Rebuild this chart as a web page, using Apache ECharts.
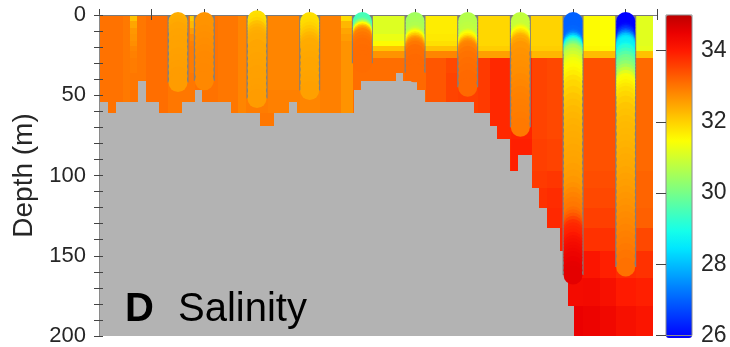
<!DOCTYPE html>
<html>
<head>
<meta charset="utf-8">
<script src="https://cdn.jsdelivr.net/npm/echarts@6/dist/echarts.min.js"></script>
<style>
  html, body { margin: 0; padding: 0; background: #fff; }
  #chart { width: 730px; height: 347px; }
</style>
</head>
<body>
<div id="chart"></div>
<script>
const FONT = '"Liberation Sans", Arial, sans-serif';

// gridded salinity field: column edges (km), row edges (m), values per column (top -> bottom)
const colEdges = [0, 4.49, 5.82, 7.21, 8.86, 13.04, 17.21, 18.16, 22.53, 26.33, 27.85, 32.02, 38.10, 41.90,
  45.88, 48.16, 51.96, 58.03, 62.02, 65.82, 68.10, 71.90, 74.17, 78.16, 82.15, 85.00, 88.22, 91.83, 95.06,
  98.10, 101.89, 105.12];
const rowEdges = [0, 4, 8, 12, 16.5, 19.6, 22.7, 26.8, 36, 47, 61, 77, 97, 108, 120, 133, 147, 164, 181, 200];
const salinity = [
  [33.05, 33.05, 33.05, 33.05, 33.05, 33.05, 33.05, 33.05, 33.05, 33.05],
  [32.98, 32.98, 32.98, 32.98, 32.98, 32.98, 32.98, 32.98, 32.98, 32.98],
  [32.2, 32.5, 32.65, 32.7, 32.75, 32.85, 32.9, 32.95, 33.0, 33.05],
  [33.0, 33.0, 33.0, 33.0, 33.0, 33.0, 33.0, 33.0, 33.0, 33.0],
  [33.1, 33.1, 33.1, 33.1, 33.1, 33.1, 33.1, 33.1, 33.1, 33.1],
  [33.0, 33.0, 33.0, 33.0, 33.0, 33.0, 33.0, 33.0, 33.0, 33.0],
  [32.1, 32.3, 32.6, 32.8, 32.9, 32.95, 32.95, 32.95, 33.0, 33.0],
  [33.05, 33.05, 33.05, 33.05, 33.05, 33.05, 33.05, 33.05, 33.05, 33.05],
  [33.0, 33.0, 33.0, 33.0, 33.0, 33.0, 33.0, 33.0, 33.0, 33.0],
  [32.85, 32.85, 32.85, 32.85, 32.85, 32.85, 32.85, 32.85, 32.85, 32.85],
  [32.9, 32.9, 32.9, 32.9, 32.9, 32.9, 32.9, 32.9, 32.9, 32.95, 33.0],
  [32.85, 32.85, 32.85, 32.85, 32.85, 32.85, 32.85, 32.85, 32.85, 32.9, 33.0],
  [32.85, 32.85, 32.85, 32.85, 32.85, 32.85, 32.85, 32.85, 32.85, 32.85],
  [32.9, 32.9, 32.9, 32.9, 32.9, 32.9, 32.9, 32.9, 32.9, 32.9],
  [31.9, 32.3, 32.5, 32.6, 32.7, 32.7, 32.7, 32.7, 32.7, 32.7],
  [31.2, 31.2, 31.2, 31.3, 31.55, 32.15, 32.7, 33.1, 33.1, 33.1],
  [31.15, 31.15, 31.15, 31.3, 31.55, 32.15, 32.7, 33.1, 33.1],
  [31.4, 31.4, 31.4, 31.45, 31.6, 32.2, 32.8, 33.15, 33.15, 33.15],
  [31.7, 31.7, 31.7, 31.75, 31.85, 32.2, 32.85, 33.35, 33.35, 33.35],
  [31.7, 31.7, 31.7, 31.75, 31.85, 32.2, 32.85, 33.5, 33.55, 33.55],
  [31.75, 31.75, 31.75, 31.8, 31.9, 32.3, 32.9, 33.6, 33.6, 33.6],
  [31.95, 31.95, 31.95, 31.95, 31.95, 32.05, 32.55, 33.65, 33.65, 33.65, 33.65],
  [31.95, 31.95, 31.95, 31.95, 31.95, 32.05, 32.55, 33.85, 33.85, 33.85, 33.85, 33.85],
  [32.0, 32.0, 32.0, 32.0, 32.0, 32.05, 32.6, 33.85, 33.85, 33.85, 33.9, 33.95],
  [32.0, 32.0, 32.0, 32.0, 32.0, 32.05, 32.3, 33.55, 33.55, 33.55, 33.55, 33.6, 33.65, 33.75],
  [32.0, 32.0, 32.0, 32.0, 32.0, 32.05, 32.3, 33.5, 33.5, 33.5, 33.5, 33.55, 33.7, 33.8, 33.85, 33.95],
  [31.8, 31.8, 31.8, 31.8, 31.8, 31.85, 32.3, 33.45, 33.45, 33.45, 33.45, 33.5, 33.55, 33.6, 33.7, 33.85, 34.1, 34.28, 34.5],
  [31.55, 31.55, 31.55, 31.55, 31.55, 31.6, 32.25, 33.4, 33.4, 33.4, 33.4, 33.4, 33.45, 33.5, 33.6, 33.75, 34.1, 34.3, 34.45],
  [31.5, 31.5, 31.5, 31.5, 31.5, 31.55, 32.25, 33.4, 33.4, 33.4, 33.4, 33.4, 33.45, 33.5, 33.6, 33.75, 33.95, 34.2, 34.35],
  [31.35, 31.35, 31.35, 31.35, 31.35, 31.4, 32.2, 33.3, 33.3, 33.3, 33.3, 33.3, 33.35, 33.4, 33.45, 33.6, 33.8, 34.0, 34.2],
  [31.2, 31.2, 31.2, 31.2, 31.2, 31.25, 32.2, 33.15, 33.15, 33.15, 33.15, 33.15, 33.2, 33.2, 33.25, 33.5, 33.75, 33.95, 34.1]
];

// sea floor: segment edges (km) and bottom depth (m)
const bathyEdges = [0, 1.65, 3.22, 7.34, 8.92, 11.46, 15.75, 18.30, 19.55, 25.06, 30.64, 33.30, 36.01, 37.59,
  48.35, 49.74, 56.38, 57.79, 60.31, 61.97, 71.27, 74.23, 75.50, 78.10, 79.49, 82.20, 83.53, 85.05, 87.52,
  88.98, 90.25];
const bathyDepth = [54, 61, 54, 41, 54, 61, 54, 47, 54, 61, 69, 61, 54, 61, 47, 41, 36, 41, 47, 54, 61, 69, 77,
  97, 87, 108, 120, 133, 147, 181];

// CTD casts: station position (km) and [depth, salinity] samples
const stationKm = [15, 20, 30, 40, 50, 60, 70, 80, 90, 100];
const stationProfiles = [
  [[4, 32.4], [6, 32.43], [8, 32.46], [10, 32.5], [14, 32.52], [18, 32.53], [22, 32.53], [26, 32.55],
   [30, 32.57], [34, 32.58], [38, 32.6], [42, 32.6]],
  [[4, 32.68], [8, 32.7], [12, 32.72], [16, 32.74], [20, 32.76], [24, 32.78], [28, 32.8], [32, 32.8],
   [36, 32.82], [41, 32.82]],
  [[3, 31.85], [5, 31.9], [7, 32.0], [9, 32.2], [11, 32.3], [13, 32.38], [15, 32.42], [17, 32.45], [21, 32.5],
   [25, 32.5], [29, 32.52], [33, 32.53], [37, 32.55], [41, 32.55], [45, 32.57], [49, 32.58], [52, 32.6]],
  [[4, 31.85], [6, 31.88], [8, 31.92], [10, 32.0], [12, 32.1], [14, 32.2], [16, 32.3], [18, 32.38], [20, 32.43],
   [24, 32.46], [28, 32.48], [32, 32.5], [36, 32.5], [40, 32.52], [44, 32.53], [47, 32.55]],
  [[4, 29.5], [5, 29.55], [6, 29.6], [7, 29.75], [8, 30.2], [9, 30.8], [10, 31.5], [11, 32.0], [12, 32.4],
   [13, 32.7], [14, 32.9], [16, 33.0], [18, 33.05], [20, 33.1], [22, 33.1], [24, 33.12], [26, 33.12],
   [28, 33.12], [30, 33.12]],
  [[4, 30.5], [6, 30.55], [8, 30.6], [10, 30.65], [12, 30.75], [13, 30.9], [14, 31.2], [15, 31.5], [16, 31.8],
   [17, 32.1], [18, 32.4], [19, 32.65], [20, 32.8], [21, 32.9], [22, 33.0], [24, 33.1], [27, 33.12],
   [30, 33.15], [33, 33.15], [36, 33.15]],
  [[4, 30.7], [6, 30.72], [8, 30.75], [10, 30.8], [12, 30.85], [14, 31.0], [15, 31.3], [16, 31.5], [17, 31.7],
   [18, 32.0], [19, 32.3], [20, 32.55], [21, 32.75], [22, 32.85], [23, 32.9], [25, 33.0], [28, 33.05],
   [32, 33.1], [36, 33.12], [40, 33.15], [45, 33.15]],
  [[4, 30.85], [6, 30.88], [8, 30.9], [10, 30.95], [11, 31.1], [12, 31.3], [13, 31.5], [14, 31.7], [15, 31.9],
   [16, 32.1], [17, 32.3], [18, 32.45], [20, 32.55], [22, 32.65], [26, 32.7], [30, 32.72], [34, 32.74],
   [38, 32.76], [42, 32.8], [46, 32.84], [50, 32.88], [54, 32.9], [58, 32.92], [62, 32.94], [66, 32.96],
   [70, 32.98]],
  [[4, 27.05], [6, 27.05], [8, 27.05], [10, 27.05], [12, 27.1], [14, 27.15], [15, 27.3], [16, 27.6], [17, 28.0],
   [18, 28.5], [19, 29.0], [20, 29.4], [21, 29.7], [22, 30.0], [23, 30.3], [24, 30.6], [26, 30.85], [28, 31.0],
   [30, 31.2], [32, 31.35], [34, 31.45], [36, 31.52], [38, 31.6], [40, 31.7], [43, 31.85], [46, 31.95],
   [50, 32.05], [54, 32.15], [58, 32.22], [62, 32.28], [66, 32.33], [70, 32.37], [74, 32.4], [78, 32.42],
   [82, 32.45], [86, 32.48], [90, 32.5], [94, 32.52], [98, 32.56], [102, 32.6], [106, 32.65], [110, 32.72],
   [113, 32.8], [116, 32.88], [119, 32.95], [122, 33.0], [125, 33.1], [127, 33.2], [129, 33.35], [131, 33.55],
   [133, 33.75], [135, 33.85], [137, 33.9], [139, 33.95], [141, 34.05], [143, 34.15], [145, 34.22],
   [147, 34.28], [149, 34.32], [151, 34.38], [153, 34.45], [156, 34.5], [159, 34.55], [162, 34.58]],
  [[4, 26.0], [6, 26.0], [8, 26.0], [10, 26.05], [11, 26.2], [12, 26.4], [13, 26.6], [14, 26.9], [15, 27.3],
   [16, 27.7], [17, 28.1], [18, 28.4], [19, 28.6], [20, 28.7], [22, 28.8], [23, 29.0], [24, 29.2], [26, 29.45],
   [28, 29.7], [30, 29.95], [32, 30.1], [34, 30.3], [36, 30.55], [38, 30.85], [40, 31.2], [42, 31.45],
   [44, 31.55], [46, 31.65], [48, 31.75], [50, 31.85], [53, 31.95], [56, 32.05], [60, 32.15], [64, 32.2],
   [68, 32.25], [72, 32.28], [76, 32.3], [80, 32.33], [84, 32.36], [88, 32.4], [92, 32.43], [96, 32.46],
   [100, 32.5], [104, 32.54], [108, 32.58], [112, 32.62], [116, 32.66], [120, 32.7], [124, 32.74],
   [128, 32.78], [132, 32.82], [136, 32.86], [140, 32.9], [144, 32.94], [148, 32.98], [152, 33.02],
   [157, 33.06]]
];

// jet-like colormap, 26 -> 35
const jetColors = ['#0000ff', '#002eff', '#005cff', '#008aff', '#00b9ff', '#00e7ff', '#16ffe9', '#44ffbb',
  '#73ff8c', '#a1ff5e', '#cfff30', '#fdff02', '#ffd300', '#ffa500', '#ff7700', '#ff4800', '#ff1a00',
  '#eb0000', '#bd0000'];

const fieldData = [];
salinity.forEach((col, c) => col.forEach((s, r) => {
  if (s == null) return;
  fieldData.push([colEdges[c], rowEdges[r], s, colEdges[c + 1], rowEdges[r + 1]]);
}));
const bathyData = bathyDepth.map((d, i) => [bathyEdges[i], d, bathyEdges[i + 1]]);
const barData = stationKm.map((km, i) => [km, stationProfiles[i][stationProfiles[i].length - 1][0]]);
const castData = [];
stationKm.forEach((km, i) => stationProfiles[i].forEach(([d, s]) => castData.push([km, d, s])));

// snap to whole pixels so neighbouring cells meet without seams
function pixelRect(p0, p1, fill) {
  const x0 = Math.round(p0[0]), x1 = Math.round(p1[0]);
  const y0 = Math.round(p0[1]), y1 = Math.round(p1[1]);
  return { type: 'rect', shape: { x: x0, y: y0, width: x1 - x0, height: y1 - y0 }, style: { fill: fill } };
}

function cellRect(params, api) {
  const p0 = api.coord([api.value(0), api.value(1)]);
  const p1 = api.coord([api.value(3), api.value(4)]);
  return pixelRect(p0, p1, api.visual('color'));
}

function bathyRect(params, api) {
  const p0 = api.coord([api.value(0), api.value(1)]);
  const p1 = api.coord([api.value(2), 200]);
  return pixelRect(p0, p1, '#b3b3b3');
}

function barRect(params, api) {
  const top = api.coord([api.value(0), 0]);
  const bot = api.coord([api.value(0), api.value(1)]);
  return {
    type: 'rect',
    shape: { x: top[0] - 10.5, y: top[1], width: 21, height: bot[1] - top[1] },
    style: { fill: '#7f7f7f' }
  };
}

const chart = echarts.init(document.getElementById('chart'));

const xCommon = {
  type: 'value', gridIndex: 0, min: 0, max: 105.94, interval: 10,
  axisLabel: { show: false },
  axisLine: { lineStyle: { color: '#7a7a7a', width: 1 } },
  splitLine: { show: false },
  z: 4
};

const option = {
  animation: false,
  backgroundColor: '#fff',
  grid: [
    { left: 99, top: 15, width: 558, height: 323 },
    { left: 666, top: 15, width: 26, height: 323, show: true, borderColor: '#8c8c8c', borderWidth: 1,
      backgroundColor: 'rgba(0,0,0,0)', z: 10 }
  ],
  xAxis: [
    Object.assign({}, xCommon, { position: 'bottom', axisTick: { inside: false, length: 5, lineStyle: { color: '#444' } } }),
    Object.assign({}, xCommon, { position: 'top', axisTick: { inside: false, length: 6, lineStyle: { color: '#444' } } }),
    { type: 'value', gridIndex: 1, show: false, min: 0, max: 1 }
  ],
  yAxis: [
    {
      type: 'value', gridIndex: 0, position: 'left', inverse: true, min: 0, max: 200, interval: 50,
      name: 'Depth (m)', nameLocation: 'middle', nameGap: 60,
      nameTextStyle: { fontSize: 28, color: '#262626', fontFamily: FONT },
      axisLabel: { fontSize: 22, color: '#262626', fontFamily: FONT, margin: 13 },
      axisLine: { show: true, lineStyle: { color: '#8a8a8a' } },
      axisTick: { inside: true, length: 4, lineStyle: { color: '#444' } },
      minorTick: { show: true, splitNumber: 5, length: 4, lineStyle: { color: '#444' } },
      splitLine: { show: false },
      z: 10
    },
    {
      type: 'value', gridIndex: 0, position: 'right', inverse: true, min: 0, max: 200, interval: 50,
      axisLabel: { show: false },
      axisLine: { show: false },
      axisTick: { inside: true, length: 5, lineStyle: { color: '#444' } },
      minorTick: { show: true, splitNumber: 5, length: 5, lineStyle: { color: '#444' } },
      splitLine: { show: false },
      z: 10
    },
    {
      type: 'value', gridIndex: 1, position: 'right', min: 26, max: 35, interval: 2,
      axisLabel: { fontSize: 23, color: '#262626', fontFamily: FONT, margin: 9, showMaxLabel: false },
      axisLine: { show: false },
      axisTick: { inside: true, length: 10, lineStyle: { color: '#444' } },
      splitLine: { show: false },
      z: 10
    }
  ],
  visualMap: {
    type: 'continuous', min: 26, max: 35, dimension: 2, seriesIndex: [0, 3],
    calculable: false, orient: 'vertical', left: 666, top: 15, itemWidth: 26, itemHeight: 323,
    padding: 0, hoverLink: false, inRange: { color: jetColors },
    textStyle: { color: 'rgba(0,0,0,0)' }, formatter: () => ''
  },
  graphic: [
    { type: 'text', left: 125, top: 290, z: 20, style: { text: 'D', fill: '#000', fontSize: 40, fontWeight: 'bold', fontFamily: FONT } },
    { type: 'text', left: 178, top: 290, z: 20, style: { text: 'Salinity', fill: '#000', fontSize: 40, fontFamily: FONT } }
  ],
  series: [
    {
      name: 'field', type: 'custom', xAxisIndex: 0, yAxisIndex: 0, renderItem: cellRect,
      data: fieldData, encode: { x: [0, 3], y: [1, 4] }, clip: true, silent: true, z: 1
    },
    {
      name: 'bottom', type: 'custom', xAxisIndex: 0, yAxisIndex: 0, renderItem: bathyRect,
      data: bathyData, encode: { x: [0, 2], y: 1 }, clip: true, silent: true, z: 2
    },
    {
      name: 'casts', type: 'custom', xAxisIndex: 0, yAxisIndex: 0, renderItem: barRect,
      data: barData, encode: { x: 0, y: 1 }, clip: false, silent: true, z: 3
    },
    {
      name: 'samples', type: 'scatter', xAxisIndex: 0, yAxisIndex: 0, data: castData,
      symbol: 'circle', symbolSize: 19, clip: false, silent: true, z: 6,
      itemStyle: { opacity: 1, borderWidth: 0 }
    }
  ]
};

chart.setOption(option);
</script>
</body>
</html>
